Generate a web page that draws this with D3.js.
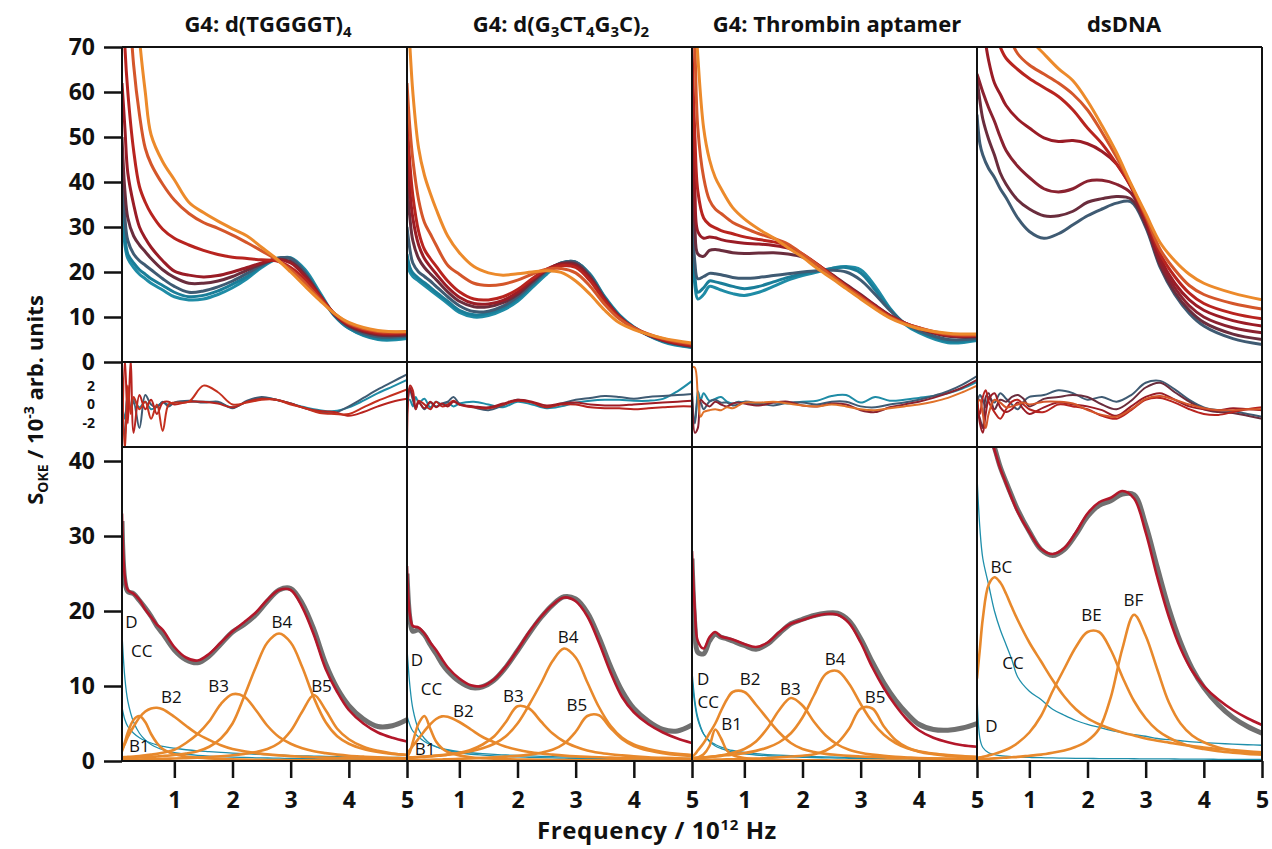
<!DOCTYPE html>
<html><head><meta charset="utf-8">
<script src="https://d3js.org/d3.v7.min.js"></script>
<style>
body{margin:0;background:#fff}
svg{display:block}
text{font-family:"Open Sans","Noto Sans","DejaVu Sans",sans-serif;fill:#111}
</style>
</head><body>
<svg id="chart" width="1272" height="849"></svg>
<script>
// ---------------- DATA ----------------
const titleParts = [
  [["G4: d(TGGGGT)",0],["4",1]],
  [["G4: d(G",0],["3",1],["CT",0],["4",1],["G",0],["3",1],["C)",0],["2",1]],
  [["G4: Thrombin aptamer",0]],
  [["dsDNA",0]]
];
const xTicks = [1,2,3,4,5];
const yTicksTop = [0,10,20,30,40,50,60,70];
const yTicksRes = [-2,0,2];
const yTicksFit = [0,10,20,30,40];

// ---- top row: OKE spectra (freq in THz) ----
const freqTop = [0.1,0.15,0.2,0.3,0.4,0.5,0.6,0.8,1.0,1.25,1.5,1.75,2.0,2.25,2.5,2.75,3.0,3.25,3.5,3.75,4.0,4.5,5.0];
const top1 = [
  [38,26,23,21,19.5,18.5,17.5,16,14.5,13.8,14,15,16.5,18.5,21,22.8,23.2,20.5,15.5,10.5,7.5,5,5.2],
  [40,28,24,22,20.5,19.5,18.5,17,15.5,14.5,14.8,15.8,17.3,19,21.3,23,23,20,15,10.3,7.5,5.2,5.5],
  [42,32,27,24,22.5,21.5,20.5,18.5,16.8,15.5,15.8,16.7,18,19.7,21.5,23,23,19.8,15,10.5,7.8,5.6,5.8],
  [50,38,32,28,26,24.5,23,20.5,18.8,17.5,17.5,18,19,20.4,21.8,22.8,22.3,19.3,14.8,10.6,8,6,6],
  [62,52,42,35,30,27.5,25.5,22.5,20.2,19.3,18.9,19.2,20,21,22,22.8,22,19,14.8,10.7,8.2,6.3,6.3],
  [90,70,60,47,39,35.5,33,29.5,27.5,26,24.8,23.9,23.3,23,22.7,22.5,21,18.3,14.5,10.8,8.4,6.5,6.5],
  [110,95,85,66,55,47.5,44,39.5,36,33,31,29.7,28.2,26.5,24.7,22.8,20.5,17.5,14,10.8,8.6,6.8,6.8],
  [140,120,105,92,72,60,50.5,44.5,40.5,35.5,33.2,31.3,29.6,28,25.5,23,20,16.8,13.7,10.8,8.8,7,6.7]
];
const top2 = [
  [22,20,19,18,17,16,15,13,11,10,10.3,11.5,13.5,16.5,19.5,21.8,22.2,19.5,14.5,10.5,7.8,4.5,3.2],
  [24,21,19.8,18.6,17.6,16.6,15.5,13.5,11.5,10.5,10.8,12,14,17,20,22,22.2,19.3,14.3,10.3,7.7,4.6,3.3],
  [30,25,22,20,19,18,16.8,14.5,12.5,11.2,11.3,12.4,14.5,17.3,20.2,22,22.2,19.2,14.2,10.2,7.6,4.7,3.4],
  [40,32,27,23,21,19.6,18.3,15.6,13.5,12.3,12.3,13.2,15,17.8,20.4,21.9,21.8,18.8,14,10.1,7.6,4.8,3.5],
  [48,38,32,26,23,21.2,19.6,16.6,14.4,13,12.9,13.7,15.5,18.2,20.6,21.7,21.4,18.5,13.8,10,7.6,4.9,3.6],
  [55,44,37,29,25,23,21.3,18,15.6,14,13.8,14.5,16.1,18.5,20.6,21.4,21,18,13.5,9.9,7.6,5,3.7],
  [62,52,45,36,31,28.5,26,21.5,19.5,17.5,17,17.3,18.2,19.5,20.6,20.8,19.8,16.8,12.8,9.6,7.6,5.2,4],
  [80,70,60,47.5,41.5,37.5,34,28,24.3,21.2,19.8,19.3,19.6,20,20.3,19.9,18,15,11.5,8.7,7.2,5.3,4.2]
];
const top3 = [
  [30,17,14,15,16.8,16.5,16,15.2,14.8,15.5,16.8,18.2,19.2,20,20.8,21.2,20.5,16.8,12,8.5,6.5,4.3,4.8],
  [33,19,15.5,16.5,18,17.8,17.5,16.8,16.3,16.8,17.8,18.8,19.6,20.2,20.8,21,19.8,16,11.8,8.6,6.8,4.6,5],
  [40,22,18.5,19,19.7,19.6,19.4,18.8,18.6,18.8,19.2,19.6,20,20.3,20.4,20,18.2,15,11.5,8.7,7,5,5.2],
  [50,30,24,23.5,24.8,25,24.8,24.3,24.1,24.2,24.3,24,23.3,21.5,19.5,17.2,15,12.6,10.4,8.7,7.4,5.7,5.6],
  [62,38,29,27.5,27.8,27.6,27.2,26.7,26.4,26.2,25.9,25.3,23.8,21.7,19.4,17,14.8,12.5,10.3,8.7,7.5,5.9,5.8],
  [70,50,38,32,30.5,29.8,29.2,28.5,27.8,27.2,26.7,25.8,24,21.8,19.3,16.9,14.6,12.3,10.2,8.7,7.6,6,5.9],
  [90,70,52,41,36,34,33,31,29.8,28.5,27.5,26.2,24,21.6,19.1,16.7,14.4,12.1,10,8.6,7.6,6.2,6],
  [110,80,68,52,45,41,38.5,34.3,31.8,29.5,27.6,25.4,23.3,20.8,18.6,16.3,14,11.8,9.8,8.4,7.4,6.4,6.2]
];
const top4 = [
  [55,48.5,46,43,41,38.5,36.5,32,29,27.5,28.5,30.5,32.5,34,35.3,35.6,30,21,15,10.8,8,5.2,3.9],
  [63,58,54,49.5,46,42,39.5,36,34,32.5,32.5,33.5,35.5,36.3,36.8,36.2,30.5,21.5,15.5,11.5,8.8,6.2,5],
  [64,62,60,56.5,53.5,50,47,43.5,41,38.5,37.8,38.5,40.2,40.4,39.5,37.5,31,22,16.5,12.5,10,7.6,6.5],
  [85,80,75,67,62,59.5,57,54,52,49.8,49,49.2,48.5,46.8,44,38.8,31.5,23,17.5,13.8,11.5,9.2,8],
  [95,88,82,78,74,70,67.5,65,63,61,59,56,52,48.5,44,39,32,24,19,15.3,13,10.8,9.6],
  [110,100,95,88,82,78,74,68.5,66,64,62,59.5,56,51,45.5,39.3,32.5,25,20.5,17,15,13,11.8],
  [140,130,120,110,100,92,86,78,72,68.5,65.2,62.5,58,52.5,46.5,39.5,33,26.5,22.5,19.5,17.5,15.3,13.8]
];
const topColorsG4 = ["#1f8ca6","#1a7e99","#3f5b73","#6a2d3d","#9a1c26","#b8241f","#d4562a","#ec8a2b"];
const topColorsDs = ["#3f5b73","#6a2d3d","#8a2230","#9a1c26","#b8241f","#d4562a","#ec8a2b"];

// ---- middle row: fit residuals ----
const freqRes = [0.1,0.15,0.2,0.25,0.3,0.4,0.5,0.6,0.7,0.8,0.9,1.0,1.25,1.5,1.75,2.0,2.25,2.5,2.75,3.0,3.25,3.5,3.75,4.0,4.25,4.5,4.75,5.0];
const res1 = [
  [0,-1.5,1,-0.5,0.5,-0.3,0.3,-0.5,-0.2,0.2,0,0.2,0.3,0.3,0.2,-0.3,0.3,0.7,0.5,0.1,-0.3,-0.6,-0.7,-0.3,0.4,1.2,1.9,2.6],
  [1.5,-3.5,1.5,-0.5,0.3,-2.5,1,0,-0.3,0.3,-0.2,0.2,0.4,0.2,0.3,-0.4,0.4,0.8,0.5,0.1,-0.4,-0.8,-0.9,-0.2,0.7,1.6,2.4,3.2],
  [-4.8,4.8,-2,4.8,-3,1,-0.5,0.5,-1,0.2,0.3,0,0.3,0.3,0.1,-0.3,0.3,0.6,0.5,0.1,-0.4,-0.7,-0.8,-1.2,-0.8,-0.2,0.3,0.6],
  [3,-4.8,2,-1,0.8,-0.5,0.3,-1.5,0,-2.8,0,0.2,0.3,2.0,1.3,0,0.2,0.5,0.5,0,-0.4,-0.9,-1.0,-1.0,-0.3,0.4,1.0,1.6]
];
const res2 = [
  [0.5,0.5,-0.2,0.8,0.2,0.6,-0.3,0.3,0,0.2,-0.2,0.1,0.3,0,-0.3,0.3,0,-0.4,-0.2,0.2,0.4,0.5,0.5,0.4,0.4,0.6,1.4,2.5],
  [-0.5,1.5,0.5,-0.5,0.3,-0.5,0.2,-0.2,0.1,0.3,0.8,0.1,-0.3,-0.6,-0.1,0.5,0.2,-0.3,0.1,0.5,0.7,0.9,0.8,0.6,0.8,0.9,1.0,1.1],
  [-4.8,2,1.5,-0.5,0.4,0,-0.5,0.3,-0.2,0,0.4,0,-0.3,-0.4,0,0.4,0.2,-0.3,0,0,-0.3,-0.4,-0.4,-0.5,-0.4,-0.3,-0.2,-0.2],
  [-1,1.8,0.8,-0.3,0.2,-0.4,0.3,-0.3,0.1,-0.2,0.3,0,-0.2,-0.3,0.1,0.5,0.3,-0.1,0.1,0.2,0,-0.1,-0.1,0,0.1,0.2,0.3,0.4]
];
const res3 = [
  [-1.5,-1.5,1.4,0.5,1.2,0.4,0.6,0.8,0.3,0.1,0.3,0.2,0,0.2,0.1,0.3,0.4,0.9,1.0,0.2,0.8,0.4,0.5,0.7,0.9,1.2,1.7,2.4],
  [1,-2,0.5,0.2,-0.5,0.3,0.5,0.2,0.2,-0.1,0,0.3,0.1,-0.1,0.2,0.2,0,0.3,0.3,-0.2,-0.3,0,0.2,0.5,0.9,1.4,2.1,3.0],
  [2,-3,-2.5,0.5,0.2,-0.2,0.3,0,-0.2,0.1,0.2,0.1,-0.1,0.2,0.3,-0.1,-0.2,0.1,0,-0.6,-0.8,-0.3,0,0.3,0.7,1.2,1.8,2.6],
  [4,3.9,1,-1.3,-0.8,-0.6,-0.5,-0.6,-0.3,-0.4,-0.1,0.2,0.2,0.3,0.1,-0.1,-0.2,0,-0.2,-0.5,-0.6,-0.4,-0.2,0,0.3,0.7,1.3,2.0]
];
const res4 = [
  [0,1,0.5,-0.3,0.8,0.2,1.2,0.6,0,-0.5,0.3,0.8,1.0,1.5,1.2,0.5,0.8,0.3,1.0,2.3,2.5,1.6,0.5,-0.3,-0.6,-0.7,-1.0,-1.3],
  [-0.5,-1.5,-2.5,0.8,1.2,-0.5,0.5,0.3,0.8,1.0,0.6,-0.2,0.6,0.8,1.0,0.8,0,-0.5,0.4,1.8,2.3,1.3,0.3,-0.5,-0.8,-0.9,-1.2,-1.5],
  [1,-2,-3,-1,0.5,1.2,-0.3,-0.8,-0.5,0.2,-0.5,-1.0,-0.3,0.2,0,-0.2,-0.6,-1.2,-0.2,0.8,1.2,0.5,-0.2,-0.5,-0.6,-0.4,-0.5,-0.6],
  [0.5,-1,0.8,1.5,0.3,-0.8,-1.5,-0.5,0.3,0.5,0,-0.5,-0.8,0,-0.2,-0.5,-1.2,-1.5,-0.6,0.5,0.7,0.2,-0.5,-1,-1.1,-0.8,-0.5,-0.3],
  [0,0.5,-1,-2.5,-1,0.5,0.2,-0.3,-0.2,0,0.2,0,0.3,0.3,0.1,-0.6,-1.1,-1.3,-0.5,0.6,0.9,0.5,0,-0.4,-0.6,-0.6,-0.5,-0.5]
];
const resColors1 = ["#1f8ca6","#3f5b73","#b8241f","#c4301e"];
const resColors2 = ["#1f8ca6","#3f5b73","#b8241f","#a01c24"];
const resColors3 = ["#1f8ca6","#3f5b73","#8a2230","#e0722a"];
const resColors4 = ["#3f5b73","#6a2d3d","#9a1c26","#b8241f","#d4562a"];

// ---- bottom row: measured spectrum, fit and components ----
const freqFit = [0.1,0.15,0.2,0.3,0.4,0.5,0.6,0.7,0.8,1.0,1.2,1.4,1.6,1.8,2.0,2.2,2.4,2.6,2.8,3.0,3.2,3.4,3.6,3.8,4.0,4.25,4.5,4.75,5.0];
const meas1 = [32,24,22.6,22.3,21.4,20.4,19.3,18.0,17.0,14.8,13.5,13.1,14.0,15.6,17.2,18.2,19.5,21.3,22.8,23.0,21.0,17.5,13.0,9.7,7.4,5.6,4.6,4.7,5.5];
const fit1  = [33,24.5,22.8,22.3,21.5,20.2,19.2,18.2,17.5,15.2,13.8,13.4,14.3,15.8,17.3,18.5,19.8,21.5,22.8,22.8,20.5,16.8,12.3,9.2,6.8,5.0,3.8,3.1,2.6];
const compNames1 = ["D","CC","B1","B2","B3","B4","B5"];
const comps1 = [
  [17,11,8,5.2,3.7,2.8,2.2,1.8,1.5,1.1,0.9,0.75,0.65,0.58,0.52,0.47,0.43,0.4,0.37,0.34,0.32,0.3,0.28,0.26,0.25,0.23,0.22,0.21,0.2],
  [7.2,5.5,4.6,3.7,3.1,2.7,2.4,2.15,1.95,1.7,1.5,1.35,1.25,1.15,1.05,0.97,0.9,0.84,0.78,0.73,0.69,0.65,0.61,0.58,0.55,0.52,0.5,0.48,0.46],
  [1.3,2.5,3.8,5.5,6.0,5.2,3.6,2.4,1.6,0.9,0.6,0.45,0.35,0.28,0.23,0.19,0.16,0.14,0.12,0.11,0.1,0.09,0.08,0.07,0.07,0.06,0.06,0.05,0.05],
  [1.5,2.3,3.2,4.6,5.8,6.6,7.0,7.1,6.9,5.9,4.7,3.6,2.8,2.1,1.6,1.3,1.05,0.88,0.75,0.65,0.57,0.5,0.45,0.4,0.36,0.32,0.29,0.26,0.24],
  [0.5,0.52,0.55,0.6,0.67,0.75,0.85,0.95,1.1,1.5,2.4,3.6,5.3,7.6,8.9,8.6,6.8,4.7,3.2,2.3,1.7,1.3,1.05,0.85,0.7,0.58,0.48,0.41,0.35],
  [0.35,0.37,0.39,0.42,0.46,0.5,0.55,0.6,0.66,0.8,1.0,1.3,1.9,3.0,5.0,8.6,12.5,15.8,17.0,15.8,12.5,8.4,5.2,3.3,2.3,1.6,1.2,0.95,0.8],
  [0.15,0.16,0.17,0.18,0.2,0.22,0.24,0.26,0.28,0.33,0.38,0.45,0.53,0.63,0.76,0.95,1.2,1.6,2.4,4.0,6.6,8.8,6.8,4.3,2.9,1.9,1.35,1.0,0.8]
];
const labels1 = [["D",0.26,18.6],["CC",0.44,14.7],["B1",0.40,2.1],["B2",0.95,8.6],["B3",1.76,10.1],["B4",2.85,18.6],["B5",3.53,10.1]];

const meas2 = [25,19,17.3,17.5,16.8,15.5,14.3,13.0,12.0,10.6,9.8,9.9,10.8,12.5,14.7,17.0,19.1,20.8,21.9,21.6,19.8,16.5,12.6,9.3,7.0,5.3,4.2,4.0,4.8];
const fit2  = [26,19.5,18,17.8,17,15.8,14.8,13.6,12.5,11.0,10.1,10.0,10.9,12.6,14.8,17.2,19.2,20.8,21.8,21.3,19.3,15.8,11.8,8.5,6.5,4.9,3.8,3.0,2.4];
const compNames2 = ["D","CC","B1","B2","B3","B4","B5"];
const comps2 = [
  [15,10,7,4.2,3.0,2.3,1.9,1.6,1.4,1.1,0.9,0.78,0.68,0.6,0.54,0.49,0.45,0.41,0.38,0.35,0.33,0.31,0.29,0.27,0.25,0.24,0.22,0.21,0.2],
  [6,4.8,4.0,3.2,2.6,2.2,1.9,1.7,1.5,1.25,1.1,0.98,0.88,0.8,0.74,0.68,0.63,0.59,0.55,0.52,0.49,0.46,0.44,0.42,0.4,0.38,0.36,0.35,0.33],
  [0.5,1.2,2.5,5.0,6.0,4.3,2.6,1.7,1.2,0.75,0.5,0.38,0.3,0.25,0.21,0.18,0.16,0.14,0.12,0.11,0.1,0.09,0.08,0.08,0.07,0.06,0.06,0.05,0.05],
  [1.0,1.5,2.0,3.0,4.0,4.9,5.6,5.95,5.9,5.2,4.2,3.2,2.5,1.9,1.5,1.2,1.0,0.85,0.72,0.62,0.55,0.5,0.45,0.4,0.37,0.34,0.31,0.28,0.26],
  [0.4,0.42,0.45,0.5,0.55,0.6,0.68,0.75,0.85,1.1,1.5,2.2,3.3,5.2,7.3,7.0,5.3,3.7,2.6,1.9,1.4,1.1,0.9,0.75,0.62,0.5,0.42,0.36,0.3],
  [0.46,0.48,0.5,0.55,0.6,0.66,0.72,0.78,0.85,1.05,1.3,1.7,2.3,3.3,5.0,7.5,10.3,13.3,15.0,13.8,10.5,7.2,4.7,3.1,2.2,1.6,1.2,0.95,0.8],
  [0.1,0.11,0.12,0.13,0.15,0.17,0.19,0.21,0.23,0.28,0.34,0.41,0.5,0.58,0.68,0.85,1.1,1.5,2.3,3.9,6.0,6.1,4.4,2.9,2.0,1.4,1.05,0.82,0.68]
];
const labels2 = [["D",0.27,13.5],["CC",0.52,9.7],["B1",0.41,1.7],["B2",1.07,6.8],["B3",1.93,8.8],["B4",2.87,16.6],["B5",3.02,7.5]];

const meas3 = [27,18,14.5,14.3,16.0,16.9,16.5,16.3,16.0,15.4,14.9,15.6,17.0,18.3,18.9,19.4,19.7,19.7,18.7,16.3,13.2,10.4,8.1,6.3,4.9,4.2,4.1,4.4,5.0];
const fit3  = [28,20,16,15.0,16.5,17.2,16.6,16.4,16.2,15.6,15.2,15.8,17.2,18.3,18.8,19.3,19.6,19.5,18.4,15.8,12.5,9.7,7.4,5.5,4.1,3.1,2.5,2.1,1.9];
const compNames3 = ["D","CC","B1","B2","B3","B4","B5"];
const comps3 = [
  [12,8,5.8,3.6,2.6,2.0,1.65,1.4,1.2,0.95,0.8,0.7,0.62,0.56,0.5,0.46,0.42,0.39,0.36,0.34,0.32,0.3,0.28,0.27,0.25,0.24,0.23,0.22,0.21],
  [11,7.5,5.5,3.6,2.7,2.2,1.85,1.6,1.4,1.15,0.98,0.86,0.77,0.7,0.64,0.59,0.55,0.51,0.48,0.45,0.43,0.41,0.39,0.37,0.35,0.34,0.32,0.31,0.3],
  [0.2,0.3,0.45,0.9,2.0,4.2,3.0,1.4,0.8,0.4,0.25,0.18,0.14,0.12,0.1,0.09,0.08,0.07,0.06,0.06,0.05,0.05,0.05,0.04,0.04,0.04,0.04,0.03,0.03],
  [0.5,0.9,1.4,2.4,3.7,5.0,6.7,8.2,9.2,9.2,7.5,5.6,3.8,2.4,1.6,1.2,0.95,0.8,0.68,0.6,0.53,0.47,0.42,0.38,0.35,0.32,0.29,0.27,0.25],
  [0.31,0.34,0.37,0.44,0.52,0.62,0.75,0.9,1.1,1.6,2.6,4.4,6.8,8.4,7.4,5.2,3.4,2.2,1.5,1.1,0.85,0.68,0.56,0.47,0.4,0.34,0.3,0.26,0.23],
  [0.42,0.44,0.46,0.5,0.56,0.62,0.68,0.76,0.85,1.05,1.35,1.8,2.5,3.7,5.8,8.8,11.6,12.0,10.3,7.6,5.2,3.5,2.4,1.7,1.3,1.0,0.8,0.65,0.55],
  [0.1,0.11,0.12,0.14,0.16,0.18,0.2,0.22,0.24,0.28,0.32,0.4,0.5,0.6,0.7,0.9,1.4,2.4,4.3,7.0,7.0,4.6,2.8,1.8,1.25,0.9,0.68,0.54,0.44]
];
const labels3 = [["D",0.29,11.0],["CC",0.38,7.9],["B1",0.78,5.0],["B2",1.1,11.0],["B3",1.79,9.7],["B4",2.56,13.7],["B5",3.25,8.6]];

const meas4 = [52,49,47,44,41.8,39.2,37.2,35.3,33.5,30.6,28.2,27.4,28.2,30.2,32.6,34.1,34.7,35.6,35.5,31.5,25.8,20.3,15.8,12.3,9.8,7.5,5.8,4.6,3.7];
const fit4  = [52,49,47,44,41.5,39,37,35,33.2,30.5,28.3,27.6,28.4,30.5,33,34.5,35.1,36,35,30.5,24.5,19.2,15,12,10,8.2,6.8,5.7,4.8];
const compNames4 = ["D","CC","BC","BE","BF"];
const comps4 = [
  [9,3.0,1.8,1.1,0.85,0.72,0.64,0.58,0.54,0.48,0.44,0.41,0.38,0.36,0.34,0.33,0.32,0.31,0.3,0.29,0.28,0.27,0.26,0.25,0.24,0.23,0.22,0.22,0.21],
  [38,31,27,23.5,20,17.5,15.5,13.5,11.2,9.3,8.2,6.9,6.1,5.4,4.9,4.5,4.1,3.8,3.5,3.3,3.0,2.85,2.7,2.55,2.45,2.35,2.25,2.17,2.1],
  [11,15,19,23.5,24.5,23.8,22.3,20.5,18.8,15.8,13.3,10.8,8.6,6.9,5.7,4.9,4.3,3.8,3.4,3.0,2.7,2.45,2.2,2.0,1.8,1.6,1.45,1.3,1.15],
  [0.4,0.48,0.55,0.75,0.95,1.2,1.5,1.9,2.4,3.8,6.0,9.3,12.3,15.2,17.2,17.2,14.8,11.2,8.0,5.7,4.1,3.1,2.4,1.9,1.6,1.3,1.1,0.95,0.85],
  [0.2,0.22,0.25,0.3,0.35,0.4,0.45,0.5,0.55,0.7,0.85,1.1,1.4,1.9,2.7,4.3,8.5,15.0,19.5,16.7,12.2,7.8,5.0,3.4,2.5,1.8,1.4,1.15,1.0]
];
const labels4 = [["BC",0.52,25.9],["BE",2.07,19.5],["BF",2.79,21.5],["CC",0.72,13.2],["D",0.35,4.8]];

// ---------------- LAYOUT ----------------
const svg = d3.select("#chart");
const colLeft = [122, 407, 692, 977];
const colW = 285;
const rows = {
  top: {y0: 47, y1: 362, dom: [0, 70]},
  res: {y0: 362, y1: 447, dom: [-4.5, 4.5]},
  fit: {y0: 447, y1: 761, dom: [0, 41.87]}
};
const titleCx = [268, 561, 837, 1124];
const panels = [
  {top: top1, topC: topColorsG4, res: res1, resC: resColors1, meas: meas1, fit: fit1, names: compNames1, comps: comps1, labels: labels1},
  {top: top2, topC: topColorsG4, res: res2, resC: resColors2, meas: meas2, fit: fit2, names: compNames2, comps: comps2, labels: labels2},
  {top: top3, topC: topColorsG4, res: res3, resC: resColors3, meas: meas3, fit: fit3, names: compNames3, comps: comps3, labels: labels3},
  {top: top4, topC: topColorsDs, res: res4, resC: resColors4, meas: meas4, fit: fit4, names: compNames4, comps: comps4, labels: labels4}
];
const FONT = "'Open Sans','Noto Sans',sans-serif";

const yTop = d3.scaleLinear().domain(rows.top.dom).range([rows.top.y1, rows.top.y0]);
const yRes = d3.scaleLinear().domain(rows.res.dom).range([rows.res.y1, rows.res.y0]);
const yFit = d3.scaleLinear().domain(rows.fit.dom).range([rows.fit.y1, rows.fit.y0]);

const defs = svg.append("defs");
const zip = (xs, ys) => xs.map((f, i) => [f, ys[i]]);

panels.forEach((p, c) => {
  const L = colLeft[c];
  const x = d3.scaleLinear().domain([0.1, 5]).range([L, L + colW]);
  const mk = (y) => d3.line().x(d => x(d[0])).y(d => y(d[1])).curve(d3.curveCatmullRom.alpha(0.5));

  Object.entries(rows).forEach(([k, r]) => {
    defs.append("clipPath").attr("id", `clip-${k}-${c}`)
      .append("rect").attr("x", L).attr("y", r.y0).attr("width", colW).attr("height", r.y1 - r.y0);
  });

  // top row
  const gT = svg.append("g").attr("clip-path", `url(#clip-top-${c})`);
  const lt = mk(yTop);
  p.top.forEach((s, i) => {
    gT.append("path").attr("d", lt(zip(freqTop, s))).attr("fill", "none")
      .attr("stroke", p.topC[i]).attr("stroke-width", 3).attr("stroke-linejoin", "round");
  });

  // residual row
  const gR = svg.append("g").attr("clip-path", `url(#clip-res-${c})`);
  const lr = mk(yRes);
  p.res.forEach((s, i) => {
    gR.append("path").attr("d", lr(zip(freqRes, s))).attr("fill", "none")
      .attr("stroke", p.resC[i]).attr("stroke-width", 2).attr("stroke-linejoin", "round");
  });

  // fit row
  const gF = svg.append("g").attr("clip-path", `url(#clip-fit-${c})`);
  const lf = mk(yFit);
  const isTeal = n => n === "D" || n === "CC";
  const order = p.names.map((n, i) => i).sort((a, b) => (isTeal(p.names[a]) ? 0 : 1) - (isTeal(p.names[b]) ? 0 : 1));
  order.forEach(i => {
    const teal = isTeal(p.names[i]);
    gF.append("path").attr("d", lf(zip(freqFit, p.comps[i]))).attr("fill", "none")
      .attr("stroke", teal ? "#1f8fab" : "#e8892c").attr("stroke-width", teal ? 1.3 : 2.6);
  });
  gF.append("path").attr("d", lf(zip(freqFit, p.meas))).attr("fill", "none")
    .attr("stroke", "#707070").attr("stroke-width", 5).attr("stroke-linejoin", "round");
  gF.append("path").attr("d", lf(zip(freqFit, p.fit))).attr("fill", "none")
    .attr("stroke", "#b3172a").attr("stroke-width", 2.6).attr("stroke-linejoin", "round");
  p.labels.forEach(([t, f, v]) => {
    svg.append("text").attr("x", x(f)).attr("y", yFit(v)).attr("text-anchor", "middle")
      .attr("dominant-baseline", "central").attr("font-size", 17).text(t);
  });

  // x axis
  const ax = svg.append("g").attr("transform", `translate(0,${rows.fit.y1})`)
    .call(d3.axisBottom(x).tickValues(xTicks).tickSize(17).tickPadding(14).tickFormat(d3.format("d")));
  ax.select(".domain").remove();
  ax.selectAll(".tick line").attr("stroke", "#111").attr("stroke-width", 2.5);
  ax.selectAll(".tick text").attr("font-size", 23).attr("font-weight", 700).attr("fill", "#111")
    .style("font-family", FONT);

  // title
  const tt = svg.append("text").attr("x", titleCx[c]).attr("y", 32).attr("text-anchor", "middle")
    .attr("font-size", 22).attr("font-weight", 700);
  let sub = false;
  titleParts[c].forEach(([s, isSub]) => {
    const ts = tt.append("tspan").text(s);
    if (isSub && !sub) { ts.attr("dy", 5).attr("font-size", 15); sub = true; }
    else if (isSub) { ts.attr("font-size", 15); }
    else if (!isSub && sub) { ts.attr("dy", -5); sub = false; }
  });
});

// y axes (left column only)
function yAxis(scale, ticks, size, pad, fs) {
  const g = svg.append("g").attr("transform", `translate(${colLeft[0]},0)`)
    .call(d3.axisLeft(scale).tickValues(ticks).tickSize(size).tickPadding(pad).tickFormat(d3.format("d")));
  g.select(".domain").remove();
  g.selectAll(".tick line").attr("stroke", "#111").attr("stroke-width", 2.5);
  g.selectAll(".tick text").attr("font-size", fs).attr("font-weight", 700).attr("fill", "#111")
    .style("font-family", FONT);
  return g;
}
yAxis(yTop, yTicksTop, 18, 9, 23);
yAxis(yRes, yTicksRes, 0, 27, 14).selectAll(".tick text").text(d => d < 0 ? "-" + Math.abs(d) : d);
yAxis(yFit, yTicksFit, 18, 9, 23);

// frames
const xR = colLeft[3] + colW;
const frame = svg.append("g").attr("stroke", "#111").attr("stroke-width", 2).attr("fill", "none");
[rows.top.y0, rows.top.y1, rows.res.y1, rows.fit.y1].forEach(yy => {
  frame.append("line").attr("x1", colLeft[0]).attr("x2", xR).attr("y1", yy).attr("y2", yy);
});
colLeft.concat([xR]).forEach(xx => {
  frame.append("line").attr("x1", xx).attr("x2", xx).attr("y1", rows.top.y0).attr("y2", rows.fit.y1);
});

// axis titles
const yl = svg.append("text").attr("transform", "translate(43,400) rotate(-90)")
  .attr("text-anchor", "middle").attr("font-size", 22).attr("font-weight", 700);
yl.append("tspan").text("S");
yl.append("tspan").attr("dy", 5).attr("font-size", 14).text("OKE");
yl.append("tspan").attr("dy", -5).text(" / 10");
yl.append("tspan").attr("dy", -9).attr("font-size", 14).text("-3");
yl.append("tspan").attr("dy", 9).text(" arb. units");

const xl = svg.append("text").attr("x", 657).attr("y", 839).attr("text-anchor", "middle")
  .attr("font-size", 24).attr("font-weight", 700).attr("letter-spacing", 0.6);
xl.append("tspan").text("Frequency / 10");
xl.append("tspan").attr("dy", -9).attr("font-size", 15).text("12");
xl.append("tspan").attr("dy", 9).text(" Hz");
</script>
</body></html>
